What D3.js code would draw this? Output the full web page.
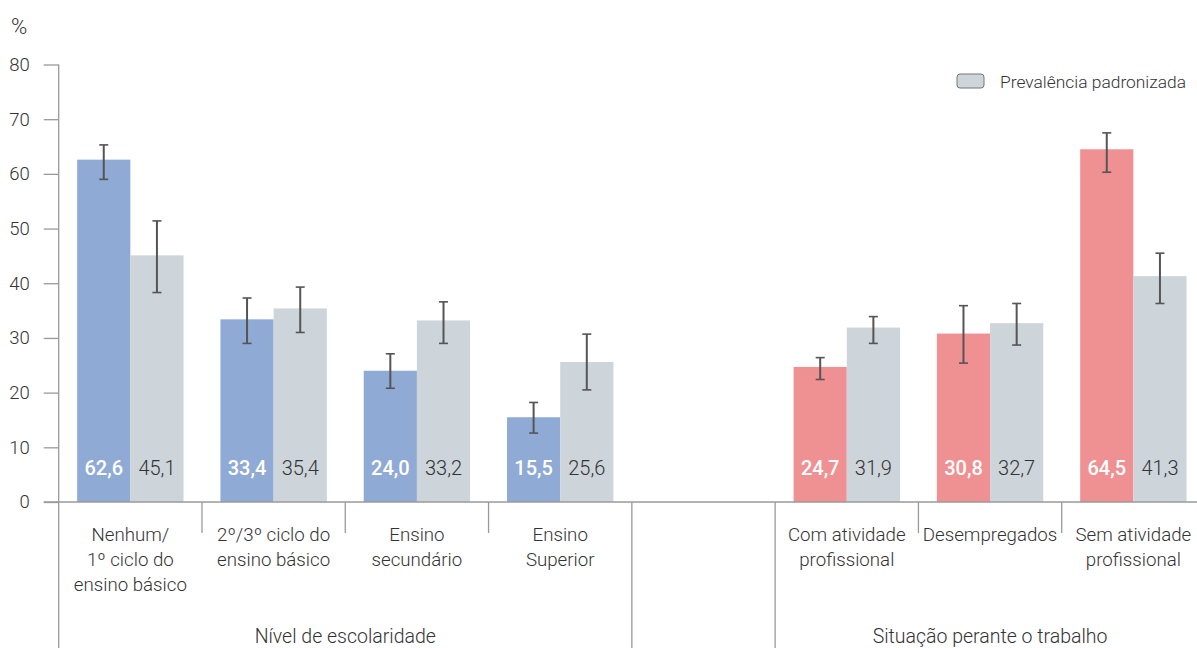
<!DOCTYPE html>
<html><head><meta charset="utf-8">
<script src="https://cdn.jsdelivr.net/npm/d3@7"></script>
<style>
body{margin:0;background:#fff;}
text{font-family:Roboto,"Liberation Sans",sans-serif;}
</style></head>
<body>
<svg id="c" width="1197" height="648"></svg>
<script>
// ---- data ----
const slots = ["Nenhum","Ciclo23","Secundario","Superior","gap","ComAtiv","Desemp","SemAtiv"];
const categoryLabels = [
  ["Nenhum/","1º ciclo do","ensino básico"],
  ["2º/3º ciclo do","ensino básico"],
  ["Ensino","secundário"],
  ["Ensino","Superior"],
  [],
  ["Com atividade","profissional"],
  ["Desempregados"],
  ["Sem atividade","profissional"]
];
const crudeValues =  [62.6, 33.4, 24.0, 15.5, null, 24.7, 30.8, 64.5];
const crudeLow =     [59.0, 29.0, 20.8, 12.6, null, 22.4, 25.4, 60.3];
const crudeHigh =    [65.3, 37.3, 27.1, 18.2, null, 26.4, 35.9, 67.5];
const stdValues =    [45.1, 35.4, 33.2, 25.6, null, 31.9, 32.7, 41.3];
const stdLow =       [38.3, 31.0, 29.0, 20.5, null, 29.0, 28.7, 36.3];
const stdHigh =      [51.4, 39.3, 36.6, 30.7, null, 33.9, 36.3, 45.5];
const crudeGroup =   ["edu","edu","edu","edu",null,"work","work","work"];
const groupNames = [
  {name:"Nível de escolaridade", from:"Nenhum", to:"Superior"},
  {name:"Situação perante o trabalho", from:"ComAtiv", to:"SemAtiv"}
];
const yTicks = [0,10,20,30,40,50,60,70,80];
const legendLabel = "Prevalência padronizada";
const series = ["crude","std"];

// ---- styles ----
const colors = {edu:"#8faad4", work:"#ef9192", std:"#cdd5da"};
const axisColor = "#9a9a9a";
const textColor = "#333";
const W = 300;

const svg = d3.select("#c");
const x0 = 58.7, x1 = 1205, yBase = 502, yTop = 64.5;
const x = d3.scaleBand().domain(slots).range([x0, x1]).paddingInner(0).paddingOuter(0);
const xs = d3.scaleBand().domain(series).range([0, x.bandwidth()]).paddingInner(0).paddingOuter(0.347);
const y = d3.scaleLinear().domain([0,80]).range([yBase, yTop]);

// bars
const rows = slots.map((s,i)=>({slot:s,i})).filter(d=>crudeValues[d.i]!==null);
const barData = [];
rows.forEach(d=>{
  barData.push({slot:d.slot, ser:"crude", v:crudeValues[d.i], lo:crudeLow[d.i], hi:crudeHigh[d.i], fill:colors[crudeGroup[d.i]], label:"#fff"});
  barData.push({slot:d.slot, ser:"std", v:stdValues[d.i], lo:stdLow[d.i], hi:stdHigh[d.i], fill:colors.std, label:textColor});
});
const fmt = v => d3.format(".1f")(v).replace(".", ",");

svg.append("g").selectAll("rect").data(barData).join("rect")
  .attr("x", d=>x(d.slot)+xs(d.ser))
  .attr("width", xs.bandwidth())
  .attr("y", d=>y(d.v))
  .attr("height", d=>y(0)-y(d.v))
  .attr("fill", d=>d.fill);

// value labels
svg.append("g").selectAll("text").data(barData).join("text")
  .attr("x", d=>x(d.slot)+xs(d.ser)+xs.bandwidth()/2)
  .attr("y", 475)
  .attr("text-anchor","middle")
  .attr("font-size", 20)
  .attr("font-weight", d=>d.ser==="crude"?500:W)
  .attr("fill", d=>d.label)
  .text(d=>fmt(d.v));

// error bars
const eb = svg.append("g").attr("stroke","#555").attr("stroke-width",2);
barData.forEach(d=>{
  const cx = x(d.slot)+xs(d.ser)+xs.bandwidth()/2;
  eb.append("line").attr("x1",cx).attr("x2",cx).attr("y1",y(d.lo)).attr("y2",y(d.hi));
  eb.append("line").attr("x1",cx-4.5).attr("x2",cx+4.5).attr("y1",y(d.lo)).attr("y2",y(d.lo)).attr("stroke-width",1.6);
  eb.append("line").attr("x1",cx-4.5).attr("x2",cx+4.5).attr("y1",y(d.hi)).attr("y2",y(d.hi)).attr("stroke-width",1.6);
});

// y axis
const yAxis = d3.axisLeft(y).tickValues(yTicks).tickSize(15).tickPadding(14).tickFormat(d3.format("d"));
const ya = svg.append("g").attr("transform",`translate(${x0},0)`).call(yAxis);
ya.select(".domain").remove();
ya.selectAll(".tick line").attr("stroke",axisColor).attr("stroke-width",1.3);
ya.selectAll(".tick text").attr("font-size",18.5).attr("font-weight",W).attr("fill",textColor).attr("font-family","Roboto");
svg.append("line").attr("x1",x0).attr("x2",x0).attr("y1",y(80)).attr("y2",648).attr("stroke",axisColor).attr("stroke-width",1.3);
// baseline
svg.append("line").attr("x1",x0-15).attr("x2",1197).attr("y1",yBase).attr("y2",yBase).attr("stroke",axisColor).attr("stroke-width",1.3);

// separators
slots.forEach((s,i)=>{
  if(i===0) return;
  const sx = x(s);
  const long = (s==="gap" || s==="ComAtiv");
  svg.append("line").attr("x1",sx).attr("x2",sx).attr("y1",yBase).attr("y2", long?648:533)
    .attr("stroke",axisColor).attr("stroke-width",1.3);
});

// category labels
slots.forEach((s,i)=>{
  const t = svg.append("text").attr("text-anchor","middle").attr("font-size",18.7).attr("font-weight",W).attr("fill",textColor);
  categoryLabels[i].forEach((line,k)=>{
    t.append("tspan").attr("x", x(s)+x.bandwidth()/2).attr("y", 541+k*25).text(line);
  });
});

// group labels
groupNames.forEach(g=>{
  const cx = (x(g.from) + x(g.to)+x.bandwidth())/2;
  svg.append("text").attr("x",cx).attr("y",643).attr("text-anchor","middle")
    .attr("font-size",19.5).attr("font-weight",W).attr("fill",textColor).text(g.name);
});

// % label
svg.append("text").attr("x",11).attr("y",34).attr("font-size",22).attr("font-weight",W).attr("fill",textColor).text("%");

// legend
svg.append("rect").attr("x",957).attr("y",74).attr("width",27).attr("height",14).attr("rx",3)
  .attr("fill",colors.std).attr("stroke","#777").attr("stroke-width",1);
svg.append("text").attr("x",1000).attr("y",88).attr("font-size",17.4).attr("font-weight",W).attr("fill",textColor).text(legendLabel);
</script>
</body></html>
